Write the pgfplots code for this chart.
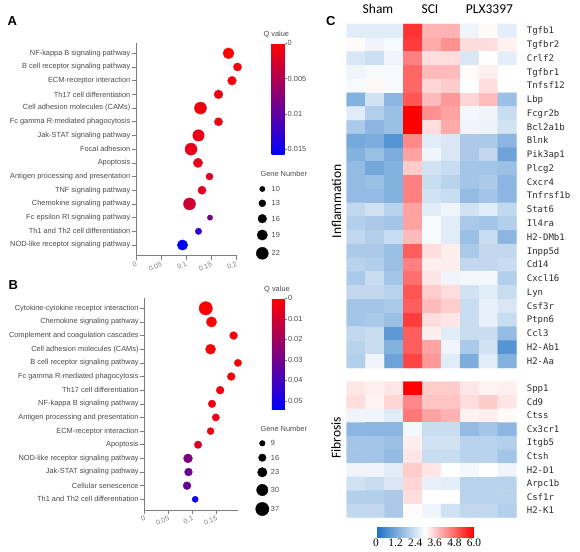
\documentclass[border=0pt]{standalone}
\usepackage{fontspec}
\setmainfont{Liberation Sans}
\newfontfamily\monof{DejaVu Sans Mono}
\newfontfamily\calf{Carlito}
\newfontfamily\serf{Liberation Serif}
\usepackage{pgfplots}
\pgfplotsset{compat=1.18}
\definecolor{axgray}{RGB}{125,125,125}
\definecolor{lblgray}{RGB}{75,75,75}
\definecolor{tkgray}{RGB}{125,125,125}
\definecolor{genegray}{RGB}{45,45,45}
\tikzset{lgtext/.style={anchor=west, inner sep=0pt, font=\fontsize{7.4}{8}\selectfont, text=lblgray}}
\pgfplotsset{
 dotax/.style={
  scale only axis, clip=false,
  axis x line*=bottom, axis y line*=left,
  axis line style={axgray, line width=0.6pt},
  tick style={axgray, line width=0.6pt},
  tick align=outside, major tick length=4pt,
  ytick={0,...,14},
  yticklabel style={font=\fontsize{7.4}{8}\selectfont, text=lblgray, inner sep=1.5pt},
  xticklabel style={font=\fontsize{7}{8}\selectfont, text=tkgray, rotate=25, anchor=north east, inner sep=1pt},
  colormap={qrb}{rgb255(0cm)=(255,0,0); rgb255(1cm)=(0,0,255)},
  point meta min=0,
 },
 qbar/.style={
  anchor=north west, width=13pt, y dir=reverse,
  axis lines*=box, axis line style={draw=none},
  ytick pos=right, yticklabel pos=right, scaled y ticks=false,
  tick align=outside, major tick length=2pt, tick style={axgray, line width=0.5pt},
  yticklabel style={font=\fontsize{7.4}{8}\selectfont, text=lblgray, inner sep=1pt, anchor=west, rotate=0},
  xtick=\empty,
 },
 dots/.style={scatter, only marks, mark=*, point meta=explicit,
  scatter/use mapped color={draw=mapped color, fill=mapped color},
  scatter/@pre marker code/.append style={/tikz/mark size=\rad}},
 lgdots/.style={scatter, only marks, mark=*, point meta=\thisrow{n},
  scatter/use mapped color={draw=black, fill=black},
  scatter/@pre marker code/.append style={/tikz/mark size=\rad}},
 heatax/.style={
  scale only axis, width=170pt, xmin=-0.5, xmax=8.5, y dir=reverse,
  enlargelimits=false, axis line style={draw=none}, tick style={draw=none},
  major tick length=0pt, xtick=\empty,
  ytick pos=right, yticklabel pos=right,
  yticklabel style={font=\monof\fontsize{9}{10}\selectfont, text=genegray, anchor=base west, inner sep=0pt, yshift=-3pt},
  yticklabel shift=10pt,
  colormap={heat}{rgb255(0cm)=(25,110,195); rgb255(3cm)=(255,255,255); rgb255(6cm)=(255,0,0)},
  point meta min=0, point meta max=6,
 },
}
\begin{document}
\begin{tikzpicture}[x=1pt,y=1pt]
\useasboundingbox (0,0) rectangle (580,551);
\fill[white] (0,0) rectangle (580,551);

% ---------------- Panel A ----------------
\begin{axis}[dotax, at={(136pt,295.3pt)}, anchor=south west,
  width=100.7pt, height=212.4pt, xmin=0, xmax=0.2014, ymin=-0.78, ymax=14.73,
  xtick={0,0.05,0.1,0.15,0.2}, xticklabels={0,0.05,0.1,0.15,0.2},
  yticklabels={NOD-like receptor signaling pathway, Th1 and Th2 cell differentiation, Fc epsilon RI signaling pathway, Chemokine signaling pathway, TNF signaling pathway, Antigen processing and presentation, Apoptosis, Focal adhesion, Jak-STAT signaling pathway, Fc gamma R-mediated phagocytosis, Cell adhesion molecules (CAMs), Th17 cell differentiation, ECM-receptor interaction, B cell receptor signaling pathway, NF-kappa B signaling pathway},
  point meta max=0.0158,
  colorbar, colorbar style={qbar, at={(263pt,507.7pt)}, height=111.7pt,
    ytick={0,0.005,0.01,0.015}, yticklabels={0,0.005,0.01,0.015}}]
\addplot[dots, visualization depends on={(5.3+0.56*(\thisrow{n}-10))/2 \as \rad}]
 table[x=x, y=y, meta=q] {
x y n q
0.185 14 20 0.0
0.203 13 15 0.0005
0.192 12 16 0.0008
0.165 11 16 0.001
0.129 10 22 0.001
0.165 9 15 0.001
0.125 8 21 0.0015
0.110 7 22 0.0015
0.124 6 17 0.0015
0.147 5 13 0.002
0.132 4 15 0.002
0.107 3 22 0.003
0.148 2 10 0.0085
0.125 1 12 0.0125
0.093 0 19 0.0155
};
\end{axis}
\node[anchor=base west, font=\fontsize{7.4}{8}\selectfont, text=lblgray] at (260,514) {Q value};
\node[anchor=base west, font=\fontsize{7.4}{8}\selectfont, text=lblgray] at (257,374) {Gene Number};
\begin{axis}[at={(250pt,371pt)}, anchor=north west, scale only axis, width=40pt, height=80pt,
  xmin=250, xmax=290, ymin=180, ymax=260, y dir=reverse, hide axis, clip=false]
\addplot[lgdots, visualization depends on={(5.3+0.56*(\thisrow{n}-10))/2 \as \rad}] table {
x y n
262.3 189 10
262.3 203.3 13
262.3 218.7 16
262.3 235 19
262.3 253.3 22
};
\node[lgtext] at (axis cs:271.5,189) {10};
\node[lgtext] at (axis cs:271.5,203.3) {13};
\node[lgtext] at (axis cs:271.5,218.7) {16};
\node[lgtext] at (axis cs:271.5,235) {19};
\node[lgtext] at (axis cs:271.5,253.3) {22};
\end{axis}

% ---------------- Panel B ----------------
\begin{axis}[dotax, at={(144.3pt,41pt)}, anchor=south west,
  width=94pt, height=212pt, xmin=0, xmax=0.1958, ymin=-0.784, ymax=14.755,
  xtick={0,0.05,0.1,0.15}, xticklabels={0,0.05,0.1,0.15},
  yticklabels={Th1 and Th2 cell differentiation, Cellular senescence, Jak-STAT signaling pathway, NOD-like receptor signaling pathway, Apoptosis, ECM-receptor interaction, Antigen processing and presentation, NF-kappa B signaling pathway, Th17 cell differentiation, Fc gamma R-mediated phagocytosis, B cell receptor signaling pathway, Cell adhesion molecules (CAMs), Complement and coagulation cascades, Chemokine signaling pathway, Cytokine-cytokine receptor interaction},
  point meta max=0.0541,
  colorbar, colorbar style={qbar, at={(263.3pt,252.7pt)}, height=111pt,
    ytick={0,0.01,0.02,0.03,0.04,0.05}, yticklabels={0,0.01,0.02,0.03,0.04,0.05}}]
\addplot[dots, visualization depends on={(5.6+0.275*(\thisrow{n}-9))/2 \as \rad}]
 table[x=x, y=y, meta=q] {
x y n q
0.128 14 37 0.0
0.140 13 26 0.0
0.186 12 17 0.001
0.138 11 25 0.001
0.195 10 15 0.001
0.181 9 17 0.002
0.158 8 17 0.003
0.141 7 16 0.003
0.149 6 15 0.004
0.138 5 14 0.004
0.112 4 16 0.008
0.091 3 21 0.027
0.092 2 17 0.031
0.089 1 17 0.032
0.106 0 11 0.052
};
\end{axis}
\node[anchor=base west, font=\fontsize{7.4}{8}\selectfont, text=lblgray] at (260.7,259) {Q value};
\node[anchor=base west, font=\fontsize{7.4}{8}\selectfont, text=lblgray] at (257,119.5) {Gene Number};
\begin{axis}[at={(250pt,115pt)}, anchor=north west, scale only axis, width=40pt, height=85pt,
  xmin=250, xmax=290, ymin=436, ymax=521, y dir=reverse, hide axis, clip=false]
\addplot[lgdots, visualization depends on={(5.6+0.275*(\thisrow{n}-9))/2 \as \rad}] table {
x y n
262.3 443.3 9
262.3 457.7 16
262.3 472.3 23
262.3 490 30
262.3 509 37
};
\node[lgtext] at (axis cs:270.7,443.3) {9};
\node[lgtext] at (axis cs:270.7,457.7) {16};
\node[lgtext] at (axis cs:270.7,472.3) {23};
\node[lgtext] at (axis cs:270.7,490) {30};
\node[lgtext] at (axis cs:270.7,509) {37};
\end{axis}

% ---------------- Panel C ----------------
\begin{axis}[heatax, at={(346.7pt,527pt)}, anchor=north west, height=344pt,
  ymin=-0.5, ymax=24.5, ytick={0,...,24},
  yticklabels={Tgfb1,Tgfbr2,Crlf2,Tgfbr1,Tnfsf12,Lbp,Fcgr2b,Bcl2a1b,Blnk,Pik3ap1,Plcg2,Cxcr4,Tnfrsf1b,Stat6,Il4ra,H2-DMb1,Inpp5d,Cd14,Cxcl16,Lyn,Csf3r,Ptpn6,Ccl3,H2-Ab1,H2-Aa}]
\addplot[matrix plot*, mesh/cols=9, point meta=explicit]
 table[row sep=\\, meta=c] {
x y c\\
0 0 2.6\\ 1 0 2.6\\ 2 0 2.6\\ 3 0 5.4\\ 4 0 3.9\\ 5 0 3.9\\ 6 0 2.8\\ 7 0 3.05\\ 8 0 2.65\\
0 1 3.05\\ 1 1 2.8\\ 2 1 2.9\\ 3 1 5.3\\ 4 1 4.0\\ 5 1 4.3\\ 6 1 3.4\\ 7 1 3.4\\ 8 1 3.15\\
0 2 2.5\\ 1 2 2.35\\ 2 2 2.8\\ 3 2 4.5\\ 4 2 3.4\\ 5 2 3.4\\ 6 2 2.5\\ 7 2 3.0\\ 8 2 2.65\\
0 3 2.8\\ 1 3 2.9\\ 2 3 2.9\\ 3 3 4.8\\ 4 3 3.8\\ 5 3 3.8\\ 6 3 3.05\\ 7 3 3.2\\ 8 3 3.0\\
0 4 2.9\\ 1 4 3.1\\ 2 4 2.9\\ 3 4 4.8\\ 4 4 3.5\\ 5 4 3.6\\ 6 4 3.0\\ 7 4 3.4\\ 8 4 3.0\\
0 5 1.4\\ 1 5 2.4\\ 2 5 1.5\\ 3 5 5.0\\ 4 5 3.8\\ 5 5 4.2\\ 6 5 3.5\\ 7 5 3.8\\ 8 5 1.7\\
0 6 2.6\\ 1 6 2.0\\ 2 6 1.7\\ 3 6 6.0\\ 4 6 4.3\\ 5 6 4.1\\ 6 6 2.85\\ 7 6 2.8\\ 8 6 2.3\\
0 7 1.9\\ 1 7 1.5\\ 2 7 1.7\\ 3 7 6.0\\ 4 7 3.4\\ 5 7 4.0\\ 6 7 2.8\\ 7 7 2.75\\ 8 7 2.4\\
0 8 1.2\\ 1 8 1.3\\ 2 8 0.8\\ 3 8 4.4\\ 4 8 2.6\\ 5 8 2.5\\ 6 8 1.9\\ 7 8 1.9\\ 8 8 1.5\\
0 9 1.4\\ 1 9 1.7\\ 2 9 1.3\\ 3 9 4.1\\ 4 9 2.8\\ 5 9 2.5\\ 6 9 1.9\\ 7 9 2.2\\ 8 9 1.1\\
0 10 1.6\\ 1 10 1.2\\ 2 10 1.4\\ 3 10 3.6\\ 4 10 2.4\\ 5 10 2.3\\ 6 10 1.8\\ 7 10 1.8\\ 8 10 1.7\\
0 11 1.6\\ 1 11 1.7\\ 2 11 1.4\\ 3 11 4.5\\ 4 11 2.3\\ 5 11 2.1\\ 6 11 1.8\\ 7 11 1.9\\ 8 11 1.5\\
0 12 1.6\\ 1 12 1.6\\ 2 12 1.4\\ 3 12 4.5\\ 4 12 2.4\\ 5 12 2.3\\ 6 12 1.6\\ 7 12 1.8\\ 8 12 1.5\\
0 13 2.2\\ 1 13 2.4\\ 2 13 2.1\\ 3 13 4.1\\ 4 13 2.6\\ 5 13 2.8\\ 6 13 2.4\\ 7 13 2.6\\ 8 13 2.2\\
0 14 2.0\\ 1 14 1.9\\ 2 14 1.8\\ 3 14 4.1\\ 4 14 2.9\\ 5 14 2.6\\ 6 14 1.9\\ 7 14 1.8\\ 8 14 2.0\\
0 15 2.2\\ 1 15 2.0\\ 2 15 2.3\\ 3 15 3.8\\ 4 15 2.9\\ 5 15 2.6\\ 6 15 1.7\\ 7 15 2.3\\ 8 15 1.5\\
0 16 1.9\\ 1 16 1.9\\ 2 16 1.7\\ 3 16 4.9\\ 4 16 3.4\\ 5 16 3.2\\ 6 16 1.9\\ 7 16 2.2\\ 8 16 2.2\\
0 17 2.1\\ 1 17 2.0\\ 2 17 1.7\\ 3 17 4.5\\ 4 17 3.2\\ 5 17 3.2\\ 6 17 2.2\\ 7 17 2.2\\ 8 17 2.3\\
0 18 1.9\\ 1 18 2.3\\ 2 18 1.8\\ 3 18 4.7\\ 4 18 3.3\\ 5 18 2.8\\ 6 18 2.85\\ 7 18 2.85\\ 8 18 2.0\\
0 19 2.2\\ 1 19 2.2\\ 2 19 2.1\\ 3 19 5.0\\ 4 19 3.6\\ 5 19 3.4\\ 6 19 2.4\\ 7 19 2.6\\ 8 19 2.3\\
0 20 1.8\\ 1 20 1.8\\ 2 20 1.9\\ 3 20 4.9\\ 4 20 3.8\\ 5 20 3.6\\ 6 20 2.3\\ 7 20 2.7\\ 8 20 2.5\\
0 21 1.8\\ 1 21 1.9\\ 2 21 1.7\\ 3 21 5.3\\ 4 21 3.4\\ 5 21 3.3\\ 6 21 2.3\\ 7 21 2.7\\ 8 21 2.3\\
0 22 2.2\\ 1 22 2.3\\ 2 22 0.9\\ 3 22 4.9\\ 4 22 3.2\\ 5 22 2.6\\ 6 22 2.3\\ 7 22 2.3\\ 8 22 1.6\\
0 23 2.1\\ 1 23 2.3\\ 2 23 1.4\\ 3 23 4.9\\ 4 23 4.1\\ 5 23 2.8\\ 6 23 1.9\\ 7 23 2.4\\ 8 23 0.8\\
0 24 2.0\\ 1 24 2.8\\ 2 24 1.1\\ 3 24 5.2\\ 4 24 4.2\\ 5 24 2.6\\ 6 24 1.3\\ 7 24 2.6\\ 8 24 1.4\\
};
\end{axis}

\begin{axis}[heatax, at={(346.7pt,169.3pt)}, anchor=north west, height=136pt,
  ymin=-0.5, ymax=9.5, ytick={0,...,9},
  yticklabels={Spp1,Cd9,Ctss,Cx3cr1,Itgb5,Ctsh,H2-D1,Arpc1b,Csf1r,H2-K1},
  colorbar horizontal,
  colorbar style={at={(376pt,31.7pt)}, anchor=north west, width=98pt, height=10pt,
    y dir=normal, axis lines*=box, axis line style={draw=none}, tick style={draw=none},
    major tick length=0pt, ytick=\empty,
    xtick={0,1.2,2.4,3.6,4.8,6}, xticklabels={0,1.2,2.4,3.6,4.8,6.0}, xticklabel pos=lower,
    xticklabel style={font=\serf\fontsize{11.4}{12}\selectfont, text=black, anchor=base, inner sep=0pt},
    xticklabel shift=9pt}]
\addplot[matrix plot*, mesh/cols=9, point meta=explicit]
 table[row sep=\\, meta=c] {
x y c\\
0 0 3.3\\ 1 0 3.2\\ 2 0 3.3\\ 3 0 6.0\\ 4 0 3.6\\ 5 0 3.6\\ 6 0 3.3\\ 7 0 3.15\\ 8 0 3.2\\
0 1 3.4\\ 1 1 3.15\\ 2 1 3.5\\ 3 1 4.4\\ 4 1 3.7\\ 5 1 3.7\\ 6 1 3.4\\ 7 1 3.6\\ 8 1 3.3\\
0 2 2.8\\ 1 2 2.8\\ 2 2 2.6\\ 3 2 4.6\\ 4 2 4.1\\ 5 2 3.9\\ 6 2 3.15\\ 7 2 3.2\\ 8 2 3.05\\
0 3 1.5\\ 1 3 1.5\\ 2 3 1.5\\ 3 3 2.85\\ 4 3 2.3\\ 5 3 2.3\\ 6 3 1.6\\ 7 3 1.8\\ 8 3 1.5\\
0 4 1.8\\ 1 4 1.8\\ 2 4 1.7\\ 3 4 3.2\\ 4 4 2.4\\ 5 4 2.4\\ 6 4 2.1\\ 7 4 2.1\\ 8 4 2.0\\
0 5 1.8\\ 1 5 1.8\\ 2 5 1.6\\ 3 5 3.3\\ 4 5 2.3\\ 5 5 2.3\\ 6 5 2.1\\ 7 5 2.1\\ 8 5 1.8\\
0 6 2.8\\ 1 6 2.8\\ 2 6 2.6\\ 3 6 3.6\\ 4 6 3.3\\ 5 6 3.0\\ 6 6 2.85\\ 7 6 3.0\\ 8 6 2.8\\
0 7 2.4\\ 1 7 2.3\\ 2 7 2.5\\ 3 7 3.5\\ 4 7 2.7\\ 5 7 2.65\\ 6 7 2.1\\ 7 7 2.1\\ 8 7 2.1\\
0 8 2.0\\ 1 8 2.0\\ 2 8 1.9\\ 3 8 3.4\\ 4 8 3.0\\ 5 8 3.0\\ 6 8 2.1\\ 7 8 2.1\\ 8 8 2.1\\
0 9 2.2\\ 1 9 2.2\\ 2 9 1.9\\ 3 9 3.05\\ 4 9 2.8\\ 5 9 2.4\\ 6 9 2.2\\ 7 9 2.2\\ 8 9 2.0\\
};
\end{axis}

\node[anchor=base, font=\calf\fontsize{13.5}{15}\selectfont] at (378,537) {Sham};
\node[anchor=base, font=\calf\fontsize{13.5}{15}\selectfont] at (430,537) {SCI};
\node[anchor=base, font=\calf\fontsize{13.5}{15}\selectfont] at (489.5,537) {PLX3397};
\node[rotate=90, font=\calf\fontsize{13.5}{15}\selectfont] at (336.5,349.5) {Inflammation};
\node[rotate=90, font=\calf\fontsize{13.5}{15}\selectfont] at (336,113) {Fibrosis};

\node[anchor=base west, font=\bfseries\fontsize{13}{15}\selectfont] at (4,525) {A};
\node[anchor=base west, font=\bfseries\fontsize{13}{15}\selectfont] at (5,261) {B};
\node[anchor=base west, font=\bfseries\fontsize{13}{15}\selectfont] at (322.5,525) {C};
\end{tikzpicture}
\end{document}
